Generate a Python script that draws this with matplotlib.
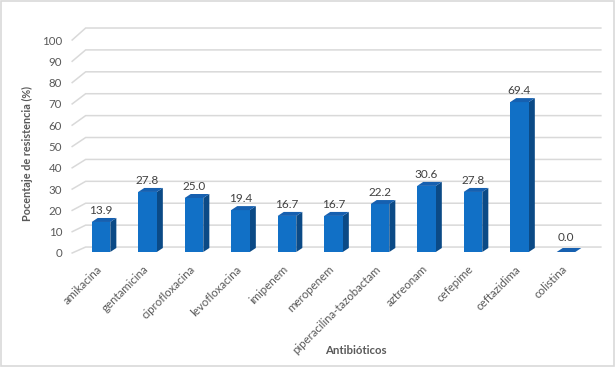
import matplotlib.pyplot as plt
import matplotlib.transforms as mtransforms
from matplotlib.patches import Polygon, Rectangle

antibioticos = ['amikacina', 'gentamicina', 'ciprofloxacina', 'levofloxacina',
                'imipenem', 'meropenem', 'piperacilina-tazobactam', 'aztreonam',
                'cefepime', 'ceftazidima', 'colistina']
resistencia = [13.9, 27.8, 25.0, 19.4, 16.7, 16.7, 22.2, 30.6, 27.8, 69.4, 0.0]
y_ticks = list(range(0, 101, 10))

FONT = 'Lato'
TXT = '#595959'
FRONT = '#1170C6'
SIDE = '#0B4A86'
TOP = '#1660B0'
GRID = '#D9D9D9'

W = 0.4      # bar width (category units)
DX = 0.13    # bar depth, x
DY = 1.85    # bar depth, y


def back_y(v):
    # back wall of the 3d box sits a bit higher than the bars
    return v * 1.014 + 2.3


def front_y(v):
    return v * 0.986 - 0.46


fig = plt.figure(figsize=(6.15, 3.67), dpi=100)
ax = fig.add_axes([68.45 / 615, 1 - 258.48 / 367, (605.5 - 68.45) / 615, (258.48 - 25.2) / 367])
ax.set_xlim(-0.7, 10.85)
ax.set_ylim(-3, 105)

# gridlines: diagonal on the side wall + horizontal on the back wall
for v in y_ticks:
    ax.plot([-0.62, -0.33, 10.75], [front_y(v), back_y(v), back_y(v)],
            color=GRID, lw=1.1, zorder=1, solid_joinstyle='miter')

for i, v in enumerate(resistencia):
    x0, x1 = i - W / 2, i + W / 2
    side = [(x1, 0), (x1 + DX, DY), (x1 + DX, v + DY), (x1, v)]
    top = [(x0, v), (x1, v), (x1 + DX, v + DY), (x0 + DX, v + DY)]
    ax.add_patch(Polygon(side, closed=True, facecolor=SIDE, edgecolor='none', zorder=3))
    if v > 0:
        ax.add_patch(Rectangle((x0, 0), W, v, facecolor=FRONT, edgecolor='none', zorder=3))
    ax.add_patch(Polygon(top, closed=True, facecolor=TOP, edgecolor='none', zorder=4))
    off = 8.5 if v > 0 else 10.5
    ax.annotate(f'{v:.1f}', (i, v), xytext=(0, off), textcoords='offset points',
                ha='center', va='center', fontsize=8.5, color='#404040', family=FONT)

ax.set_yticks([front_y(v) for v in y_ticks])
ax.set_yticklabels([str(v) for v in y_ticks])
ax.set_xticks(range(len(antibioticos)))
ax.set_xticklabels(antibioticos, rotation=45, ha='right', rotation_mode='anchor')
ax.tick_params(axis='y', length=0, pad=4.5, labelsize=8.3, labelcolor=TXT)
ax.tick_params(axis='x', length=0, pad=5, labelsize=8.3, labelcolor=TXT)
shift = mtransforms.ScaledTranslation(-0.05, 0.02, fig.dpi_scale_trans)
for lab in ax.get_xticklabels():
    lab.set_family(FONT)
    lab.set_transform(lab.get_transform() + shift)
for lab in ax.get_yticklabels():
    lab.set_family(FONT)
for s in ax.spines.values():
    s.set_visible(False)
ax.set_facecolor('none')

fig.text(27 / 615, 1 - 153 / 367, 'Pocentaje de resistencia (%)', rotation=90,
         ha='center', va='center', fontsize=7.8, fontweight='bold', color=TXT, family=FONT)
fig.text(356 / 615, 1 - 351 / 367, 'Antibióticos', ha='center', va='center',
         fontsize=8.2, fontweight='bold', color=TXT, family=FONT)

fig.patches.append(Rectangle((0.001, 0.002), 0.997, 0.995, transform=fig.transFigure,
                             fill=False, edgecolor='#D9D9D9', lw=1.2))

fig.savefig('out.png', dpi=100)
